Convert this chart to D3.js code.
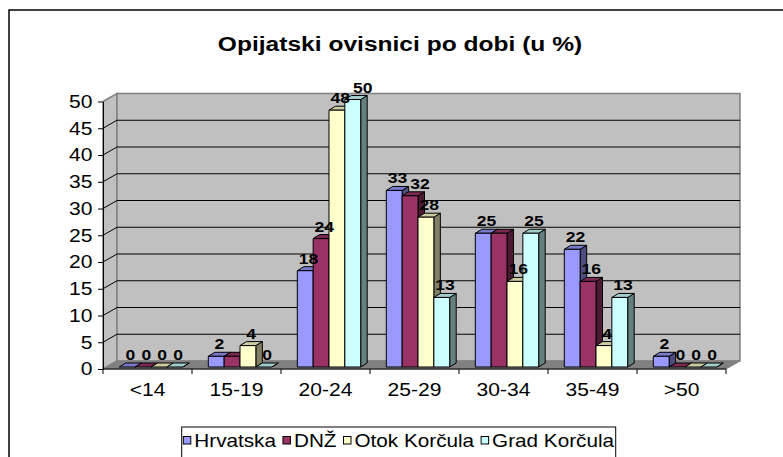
<!DOCTYPE html>
<html>
<head>
<meta charset="utf-8">
<script src="https://cdn.jsdelivr.net/npm/d3@7"></script>
<style>
  body { margin: 0; background: #fff; }
  text { font-family: Arial, "Liberation Sans", sans-serif; }
</style>
</head>
<body>
<script>
// chart data
let categories = ["<14", "15-19", "20-24", "25-29", "30-34", "35-49", ">50"];
let seriesNames = ["Hrvatska", "DNŽ", "Otok Korčula", "Grad Korčula"];
let hrvatska = [0, 2, 18, 33, 25, 22, 2];
let dnz = [0, 2, 24, 32, 25, 16, 0];
let otokKorcula = [0, 4, 48, 28, 16, 4, 0];
let gradKorcula = [0, 0, 50, 13, 25, 13, 0];
let yTicks = [0, 5, 10, 15, 20, 25, 30, 35, 40, 45, 50];
let colors = ["#9999FF", "#993366", "#FFFFCC", "#CCFFFF"];
let title = "Opijatski ovisnici po dobi (u %)";

let seriesValues = [hrvatska, dnz, otokKorcula, gradKorcula];

// the picture looks a bit stretched sideways, so text gets a small x-scale
let sx = 1.17;

let W = 783, H = 457;
let plot = {left: 103, right: 726, top: 101.5, bottom: 369};
let wall = {dx: 14, dy: 8};          // depth of the back wall
let barOff = {dx: 3.5, dy: 2};       // bars sit a little behind the front plane
let barDepth = {dx: 6.5, dy: 4};     // depth of each 3d bar

let svg = d3.select("body").append("svg")
    .attr("width", W)
    .attr("height", H);

// outer chart border
svg.append("rect")
    .attr("x", 9).attr("y", 10)
    .attr("width", 800).attr("height", 480)
    .attr("fill", "#fff")
    .attr("stroke", "#000")
    .attr("stroke-width", 1.5);

// scales
let x0 = d3.scaleBand().domain(categories).range([plot.left, plot.right]);
let groupW = 63.4;
let x1 = d3.scaleBand().domain(seriesNames).range([0, groupW]);
let yScale = d3.scaleLinear().domain([0, 50]).range([plot.bottom, plot.top]);

function stretchText(sel, x, y) {
  return sel.attr("transform", "translate(" + x + "," + y + ") scale(" + sx + ",1)");
}

// title
stretchText(svg.append("text"), 400, 51)
    .attr("text-anchor", "middle")
    .attr("font-size", 21)
    .attr("font-weight", "bold")
    .text(title);

// walls and floor
let bx = plot.left + wall.dx, by = plot.top - wall.dy;
let floorY = plot.bottom - wall.dy;

svg.append("polygon")  // left side wall
    .attr("points", [[plot.left, plot.top], [bx, by], [bx, floorY], [plot.left, plot.bottom]].join(" "))
    .attr("fill", "#C0C0C0").attr("stroke", "#808080").attr("stroke-width", 1.5);

svg.append("rect")     // back wall
    .attr("x", bx).attr("y", by)
    .attr("width", plot.right + wall.dx - bx).attr("height", floorY - by)
    .attr("fill", "#C0C0C0").attr("stroke", "#808080").attr("stroke-width", 1.5);

svg.append("polygon")  // floor
    .attr("points", [[plot.left, plot.bottom], [bx, floorY], [plot.right + wall.dx, floorY], [plot.right, plot.bottom]].join(" "))
    .attr("fill", "#808080").attr("stroke", "#808080");

// gridlines on side wall and back wall
let grid = svg.append("g");
yTicks.filter(function(t) { return t > 0 && t < 50; }).forEach(function(t) {
  let yy = yScale(t);
  grid.append("polyline")
      .attr("points", [[plot.left, yy], [bx, yy - wall.dy], [plot.right + wall.dx, yy - wall.dy]].join(" "))
      .attr("fill", "none")
      .attr("stroke", "#000")
      .attr("stroke-width", 1);
});

// bars
function shade(c, k) {
  let col = d3.rgb(c);
  return d3.rgb(col.r * k, col.g * k, col.b * k).toString();
}

let bars = svg.append("g");
let labels = [];
categories.forEach(function(cat, ci) {
  seriesNames.forEach(function(name, si) {
    let v = seriesValues[si][ci];
    let bw = x1.bandwidth();
    let left = x0(cat) + (x0.bandwidth() - groupW) / 2 + x1(name) + barOff.dx;
    let right = left + bw;
    let top = yScale(v) - barOff.dy;
    let bottom = yScale(0) - barOff.dy;
    let c = colors[si];
    let g = bars.append("g")
        .attr("stroke", "#000")
        .attr("stroke-width", 1)
        .attr("stroke-linejoin", "round");
    // side face
    g.append("polygon")
        .attr("points", [[right, top], [right + barDepth.dx, top - barDepth.dy],
                         [right + barDepth.dx, bottom - barDepth.dy], [right, bottom]].join(" "))
        .attr("fill", shade(c, 0.5));
    // top face
    g.append("polygon")
        .attr("points", [[left, top], [left + barDepth.dx, top - barDepth.dy],
                         [right + barDepth.dx, top - barDepth.dy], [right, top]].join(" "))
        .attr("fill", shade(c, 0.8));
    // front face
    if (v > 0) {
      g.append("rect")
          .attr("x", left).attr("y", top)
          .attr("width", bw).attr("height", bottom - top)
          .attr("fill", c);
    }
    // equal neighbours print their label on the same spot, only one reads
    let prev = si > 0 ? seriesValues[si - 1][ci] : null;
    if (v > 0 && v === prev) return;
    labels.push({v: v, ci: ci, x: left + (bw + barDepth.dx) / 2, y: top - barDepth.dy - 3});
  });
});

// value labels, nudged right when they run into the previous one
let labelG = svg.append("g");
let last = null;
labels.forEach(function(d) {
  let t = stretchText(labelG.append("text"), d.x, d.y)
      .attr("text-anchor", "middle")
      .attr("font-size", 15)
      .attr("font-weight", "bold")
      .text(d.v);
  let w = t.node().getComputedTextLength() * sx;
  if (last && last.ci === d.ci && d.v > 0 && Math.abs(last.y - d.y) < 14) {
    let minX = last.x + last.w / 2 + 3 + w / 2;
    if (d.x < minX) {
      d.x = minX;
      stretchText(t, d.x, d.y);
    }
  }
  d.w = w;
  last = d;
});

// y axis
let yAxis = svg.append("g")
    .attr("transform", "translate(" + plot.left + ",0)")
    .call(d3.axisLeft(yScale).tickValues(yTicks).tickSize(5).tickPadding(4).tickSizeOuter(0));
yAxis.select(".domain").attr("stroke", "#000");
yAxis.selectAll("text")
    .attr("font-size", 18)
    .attr("font-family", "Arial, 'Liberation Sans', sans-serif")
    .attr("fill", "#000")
    .attr("transform", "scale(" + sx + ",1)");

// x axis, ticks sit on the category boundaries
let xAxis = svg.append("g")
    .attr("transform", "translate(0," + plot.bottom + ")");
xAxis.append("line")
    .attr("x1", plot.left).attr("x2", plot.right)
    .attr("stroke", "#000");
xAxis.selectAll(".bound")
    .data(categories.concat(["end"]))
    .enter().append("line")
    .attr("x1", function(d, i) { return plot.left + i * x0.bandwidth(); })
    .attr("x2", function(d, i) { return plot.left + i * x0.bandwidth(); })
    .attr("y1", 0).attr("y2", 5)
    .attr("stroke", "#000");
xAxis.selectAll(".cat")
    .data(categories)
    .enter().append("text")
    .attr("text-anchor", "middle")
    .attr("font-size", 18)
    .attr("transform", function(d) {
      return "translate(" + (x0(d) + x0.bandwidth() / 2) + ",27) scale(" + sx + ",1)";
    })
    .text(function(d) { return d; });

// legend
let legend = svg.append("g");
legend.append("rect")
    .attr("x", 181.7).attr("y", 427)
    .attr("width", 434).attr("height", 40)
    .attr("fill", "#fff")
    .attr("stroke", "#000");
let lx = 183.3;
seriesNames.forEach(function(name, i) {
  legend.append("rect")
      .attr("x", lx).attr("y", 436.5)
      .attr("width", 7.5).attr("height", 7.5)
      .attr("fill", colors[i])
      .attr("stroke", "#000");
  let t = stretchText(legend.append("text"), lx + 11, 446.5)
      .attr("font-size", 17.7)
      .text(name);
  lx += 11 + t.node().getComputedTextLength() * sx + 7;
});
</script>
</body>
</html>
